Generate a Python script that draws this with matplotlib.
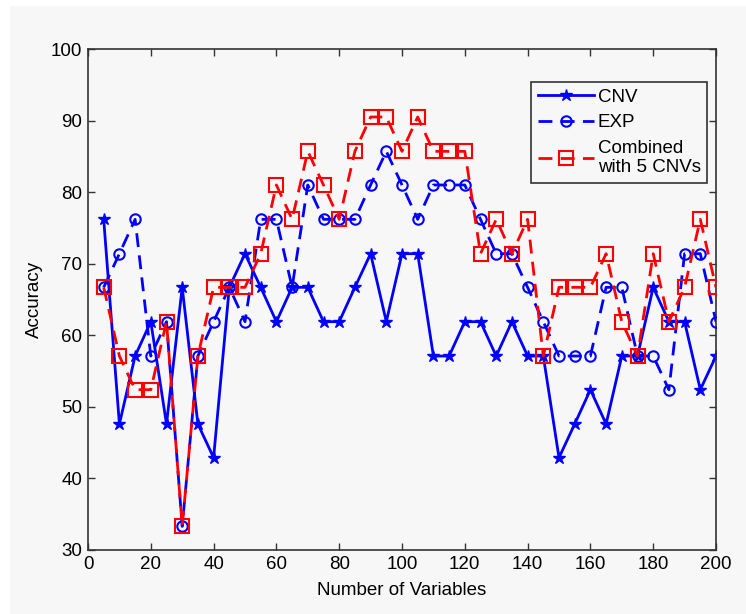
import matplotlib
matplotlib.use("Agg")
import matplotlib.pyplot as plt
from matplotlib.patches import Rectangle

plt.rcParams['font.family'] = ['Liberation Sans', 'DejaVu Sans']

num_vars = [5, 10, 15, 20, 25, 30, 35, 40, 45, 50,
            55, 60, 65, 70, 75, 80, 85, 90, 95, 100,
            105, 110, 115, 120, 125, 130, 135, 140, 145, 150,
            155, 160, 165, 170, 175, 180, 185, 190, 195, 200]

cnv = [76.2, 47.6, 57.1, 61.9, 47.6, 66.7, 47.6, 42.9, 66.7, 71.4,
       66.7, 61.9, 66.7, 66.7, 61.9, 61.9, 66.7, 71.4, 61.9, 71.4,
       71.4, 57.1, 57.1, 61.9, 61.9, 57.1, 61.9, 57.1, 57.1, 42.9,
       47.6, 52.4, 47.6, 57.1, 57.1, 66.7, 61.9, 61.9, 52.4, 57.1]

exp = [66.7, 71.4, 76.2, 57.1, 61.9, 33.3, 57.1, 61.9, 66.7, 61.9,
       76.2, 76.2, 66.7, 81.0, 76.2, 76.2, 76.2, 81.0, 85.7, 81.0,
       76.2, 81.0, 81.0, 81.0, 76.2, 71.4, 71.4, 66.7, 61.9, 57.1,
       57.1, 57.1, 66.7, 66.7, 57.1, 57.1, 52.4, 71.4, 71.4, 61.9]

combined = [66.7, 57.1, 52.4, 52.4, 61.9, 33.3, 57.1, 66.7, 66.7, 66.7,
            71.4, 81.0, 76.2, 85.7, 81.0, 76.2, 85.7, 90.5, 90.5, 85.7,
            90.5, 85.7, 85.7, 85.7, 71.4, 76.2, 71.4, 76.2, 57.1, 66.7,
            66.7, 66.7, 71.4, 61.9, 57.1, 71.4, 61.9, 66.7, 76.2, 66.7]

labels = ['CNV', 'EXP', 'Combined\nwith 5 CNVs']
x_ticks = [0, 20, 40, 60, 80, 100, 120, 140, 160, 180, 200]
y_ticks = [30, 40, 50, 60, 70, 80, 90, 100]

W, H = 746, 614
fig = plt.figure(figsize=(W / 100, H / 100), dpi=100, facecolor='white')
fig.patches.append(Rectangle((10 / W, 0), 1, 1 - 6 / H, transform=fig.transFigure,
                             facecolor='#f7f7f7', edgecolor='none', zorder=-10))

left, right, top, bottom = 88, 716, 49, 550
ax = fig.add_axes([left / W, 1 - bottom / H, (right - left) / W, (bottom - top) / H])
ax.set_facecolor('#f7f7f7')

ax.plot(num_vars, cnv, '-', color='#0000ff', lw=2, marker='*', ms=9,
        markerfacecolor='#0000ff', markeredgecolor='#0000ff', label=labels[0], zorder=2)
ax.plot(num_vars, exp, '--', color='#0000ff', lw=2, marker='o', ms=7.5,
        markerfacecolor='none', markeredgecolor='#0000ff', markeredgewidth=1.5,
        dashes=(5, 3), label=labels[1], zorder=3)
ax.plot(num_vars, combined, '--', color='#ff0000', lw=2, marker='s', ms=9.5,
        markerfacecolor='none', markeredgecolor='#ff0000', markeredgewidth=1.5,
        dashes=(5, 3), label=labels[2], zorder=4)

ax.set_xlim(0, 200)
ax.set_ylim(30, 100)
ax.set_xticks(x_ticks)
ax.set_yticks(y_ticks)
ax.tick_params(direction='in', top=True, right=True, length=5, width=1,
               labelsize=13.5, color='#333333', pad=4)
for s in ax.spines.values():
    s.set_linewidth(1.2)
    s.set_color('#333333')

ax.set_xlabel('Number of Variables', fontsize=13.5, labelpad=7)
ax.set_ylabel('Accuracy', fontsize=13.5, labelpad=6)

leg = ax.legend(loc='upper right', bbox_to_anchor=(0.986, 0.934), borderaxespad=0,
                fontsize=13.5, numpoints=1, handlelength=3.0, handletextpad=0.2,
                labelspacing=0.45, borderpad=0.35, fancybox=False, framealpha=1,
                facecolor='#f7f7f7', edgecolor='#333333')
leg.get_frame().set_linewidth(1.2)

fig.savefig('out.png', dpi=100, facecolor=fig.get_facecolor())
